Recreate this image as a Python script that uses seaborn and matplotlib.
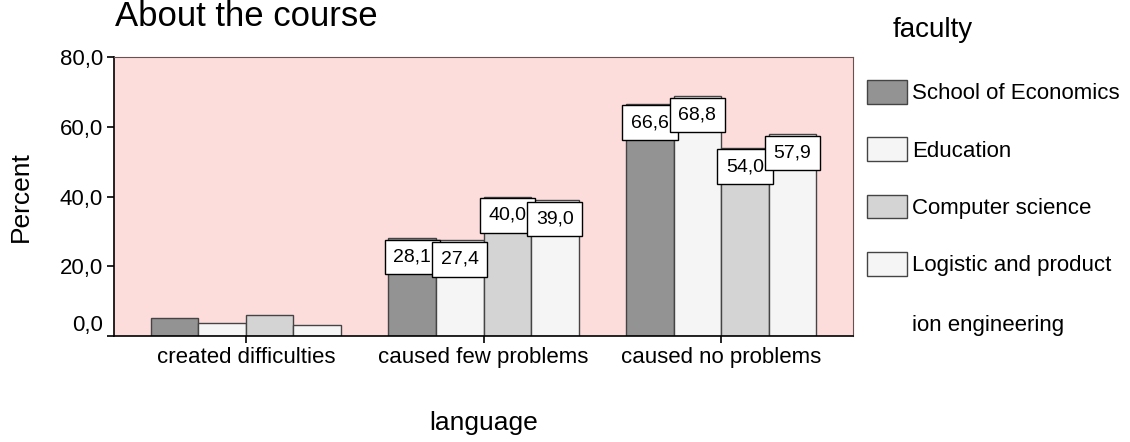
import pandas as pd
import numpy as np
import seaborn as sns
import matplotlib.pyplot as plt
import matplotlib.transforms as mtransforms

# data (percent)
languages = ['created difficulties', 'caused few problems', 'caused no problems']
faculties = ['School of Economics', 'Education', 'Computer science', 'Logistic and production engineering']
economics = [5.3, 28.1, 66.6]
education = [3.8, 27.4, 68.8]
computer = [6.0, 40.0, 54.0]
logistic = [3.1, 39.0, 57.9]
yticks = [0, 20, 40, 60, 80]
ytick_labels = ['0,0', '20,0', '40,0', '60,0', '80,0']
labelled_groups = [1, 2]  # value boxes only on these groups

bar_colors = ['#939393', '#f5f5f5', '#d4d4d4', '#f5f5f5']

df = pd.DataFrame({
    'language': languages * 4,
    'faculty': np.repeat(faculties, 3),
    'percent': economics + education + computer + logistic,
})

sns.set_style('white')
plt.rcParams['font.family'] = ['Liberation Sans', 'DejaVu Sans']
plt.rcParams['text.color'] = 'black'
plt.rcParams['axes.labelcolor'] = 'black'
plt.rcParams['xtick.color'] = 'black'
plt.rcParams['ytick.color'] = 'black'

fig = plt.figure(figsize=(11.3, 4.42), dpi=100)
ax = fig.add_axes([114 / 1130, 106 / 442, 739 / 1130, 279 / 442])
ax.set_facecolor('#fddcdc')

sns.barplot(data=df, x='language', y='percent', hue='faculty', order=languages,
            hue_order=faculties, palette=bar_colors, edgecolor='#444444',
            linewidth=1, width=0.8, ax=ax, errorbar=None)

ax.set_xlim(-0.555, 2.555)
ax.set_ylim(0, 80)
ax.set_yticks(yticks)
ax.set_yticklabels(ytick_labels)
ax.tick_params(axis='both', labelsize=16, length=5, width=1.2, direction='out', pad=3,
               color='black', labelcolor='black', left=True, bottom=True)

# SPSS puts the zero label slightly above its tick
lab0 = ax.get_yticklabels()[0]
lab0.set_transform(lab0.get_transform() + mtransforms.ScaledTranslation(0, 0.13, fig.dpi_scale_trans))

for side in ['left', 'bottom']:
    ax.spines[side].set_color('black')
    ax.spines[side].set_linewidth(1.2)
for side in ['top', 'right']:
    ax.spines[side].set_color('#6a5050')
    ax.spines[side].set_linewidth(0.8)

# value boxes
for cont in ax.containers:
    for i, bar in enumerate(cont):
        if i not in labelled_groups:
            continue
        h = bar.get_height()
        ax.annotate(f'{h:.1f}'.replace('.', ','), (bar.get_x() + bar.get_width() / 2, h),
                    xytext=(0, -7.5), textcoords='offset points', ha='center', va='top',
                    fontsize=14, color='black',
                    bbox=dict(boxstyle='square,pad=0.45', fc='white', ec='black', lw=1))

ax.set_xlabel('language', fontsize=19, color='black')
ax.set_ylabel('Percent', fontsize=19, color='black')
ax.xaxis.set_label_coords(0.5, -0.27)
ax.yaxis.set_label_coords(-0.11, 0.5)

fig.text(115 / 1130, 1 - 26 / 442, 'About the course', fontsize=25, ha='left', va='baseline')

sns.move_legend(ax, 'upper left', bbox_to_anchor=(867 / 1130, 1 - 80 / 442),
                bbox_transform=fig.transFigure, frameon=False, title=None,
                fontsize=16, handlelength=1.8, handleheight=1.26, labelspacing=1.49,
                handletextpad=0.22, borderpad=0, borderaxespad=0)
leg = ax.get_legend()
for t in leg.get_texts():
    t.set_color('black')
leg.get_texts()[3].set_text('Logistic and product')
fig.text(912 / 1130, 1 - 325 / 442, 'ion engineering', fontsize=16, ha='left', va='center')
fig.text(893 / 1130, 1 - 30 / 442, 'faculty', fontsize=20, ha='left', va='center')

fig.savefig('out.png', dpi=100)
